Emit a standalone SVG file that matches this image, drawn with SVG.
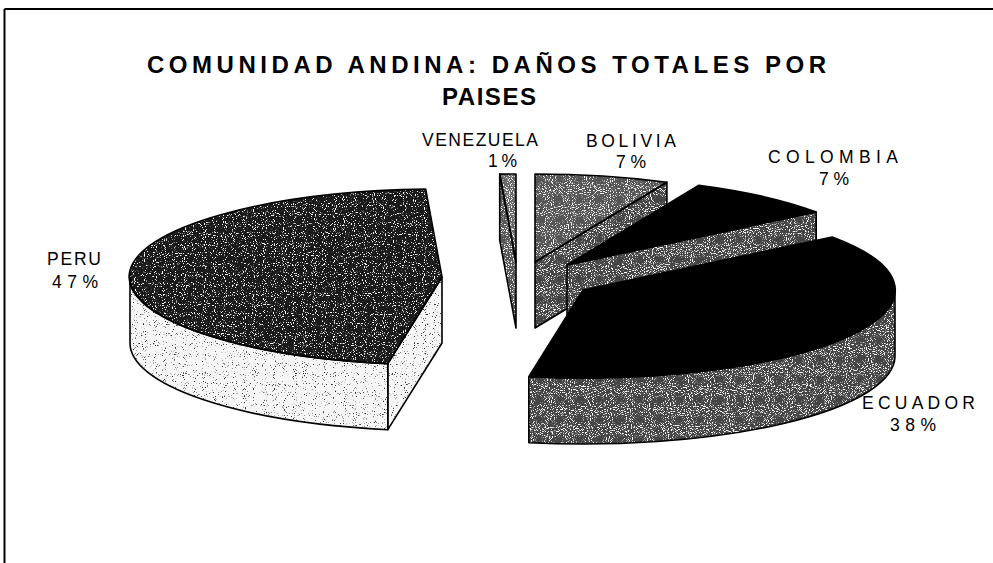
<svg xmlns="http://www.w3.org/2000/svg" width="993" height="563" viewBox="0 0 993 563">
<style>
.ol{fill:none;stroke:#000;stroke-width:1.6;stroke-linejoin:round}
.title{font-family:"Liberation Sans",Arial,sans-serif;font-weight:bold;font-size:24px;fill:#000}
.lbl{font-family:"Liberation Sans",Arial,sans-serif;font-size:17.5px;fill:#000}
</style>
<defs>
<filter id="fW1" color-interpolation-filters="sRGB">
<feTurbulence type="fractalNoise" baseFrequency="0.9" numOctaves="1" seed="3" result="n"/>
<feColorMatrix in="n" type="matrix" values="0 0 0 0 1 0 0 0 0 1 0 0 0 0 1 12 0 0 0 -7.1" result="w"/>
<feComposite in="w" in2="SourceAlpha" operator="in" result="wm"/>
<feMerge><feMergeNode in="SourceGraphic"/><feMergeNode in="wm"/></feMerge>
</filter>
<filter id="fD1" color-interpolation-filters="sRGB">
<feTurbulence type="fractalNoise" baseFrequency="0.9" numOctaves="1" seed="7" result="n"/>
<feColorMatrix in="n" type="matrix" values="0 0 0 0 0.2 0 0 0 0 0.2 0 0 0 0 0.2 10 0 0 0 -6.2" result="w"/>
<feComposite in="w" in2="SourceAlpha" operator="in" result="wm"/>
<feMerge><feMergeNode in="SourceGraphic"/><feMergeNode in="wm"/></feMerge>
</filter>
<filter id="fW2" color-interpolation-filters="sRGB">
<feTurbulence type="fractalNoise" baseFrequency="0.95" numOctaves="1" seed="11" result="n"/>
<feColorMatrix in="n" type="matrix" values="0 0 0 0 1 0 0 0 0 1 0 0 0 0 1 9 0 0 0 -4.9" result="w"/>
<feComposite in="w" in2="SourceAlpha" operator="in" result="wm"/>
<feMerge><feMergeNode in="SourceGraphic"/><feMergeNode in="wm"/></feMerge>
</filter>
</defs>
<rect x="0" y="0" width="993" height="563" fill="#fff"/>
<g id="frame">
<line x1="4.5" y1="9" x2="993" y2="9" stroke="#000" stroke-width="2"/>
<line x1="4.5" y1="9" x2="4.5" y2="563" stroke="#000" stroke-width="2"/>
</g>
<g id="title">
<text class="title" x="147" y="73" textLength="679" lengthAdjust="spacing">COMUNIDAD ANDINA: DAÑOS TOTALES POR</text>
<text class="title" x="442" y="105" textLength="94" lengthAdjust="spacing">PAISES</text>
</g>
<g id="venezuela">
<path d="M516,262 L499.7,174.1 L499.7,240.1 L516,328 Z" fill="#555" filter="url(#fW2)"/>
<path d="M516,262 L516,174 A312,88 0 0 0 499.7,174.1 Z" fill="#666" filter="url(#fW2)"/>
<path class="ol" d="M516,262 L499.7,174.1 L499.7,240.1 L516,328 Z"/>
<path class="ol" d="M516,262 L516,174 A312,88 0 0 0 499.7,174.1 Z"/>
</g>
<g id="bolivia">
<path d="M535,262 L666.9,182.2 L666.9,248.2 L535,328 Z" fill="#444" filter="url(#fW2)"/>
<path d="M535,262 L666.9,182.2 A312,88 0 0 0 535,174 Z" fill="#555" filter="url(#fW2)"/>
<path class="ol" d="M535,262 L666.9,182.2 L666.9,248.2 L535,328 Z"/>
<path class="ol" d="M535,262 L666.9,182.2 A312,88 0 0 0 535,174 Z"/>
</g>
<g id="colombia">
<path d="M567,265 L816.2,212 L816.2,278 L567,331 Z" fill="#444" filter="url(#fW2)"/>
<path class="ol" d="M567,265 L816.2,212 L816.2,278 L567,331 Z"/>
<path d="M567,265 L816.2,212 A312,88 0 0 0 698.9,185.2 Z" fill="#000" stroke="#000" stroke-width="1.6" stroke-linejoin="round"/>
</g>
<g id="peru">
<path d="M130,277 A312,88 0 0 0 387.8,363.7 L387.8,429.7 A312,88 0 0 1 130,343 Z" fill="#f6f6f6" filter="url(#fD1)"/>
<path d="M442,277 L387.8,363.7 L387.8,429.7 L442,343 Z" fill="#f6f6f6" filter="url(#fD1)"/>
<path d="M442,277 L425.7,189.1 A312,88 0 0 0 387.8,363.7 Z" fill="#1a1a1a" filter="url(#fW1)"/>
<path class="ol" d="M130,277 A312,88 0 0 0 387.8,363.7 L387.8,429.7 A312,88 0 0 1 130,343 Z"/>
<path class="ol" d="M442,277 L387.8,363.7 L387.8,429.7 L442,343 Z"/>
<path class="ol" d="M442,277 L425.7,189.1 A312,88 0 0 0 387.8,363.7 Z"/>
</g>
<g id="ecuador">
<path d="M528.8,376.7 A312,88 0 0 0 895,290 L895,356 A312,88 0 0 1 528.8,442.7 Z" fill="#444" filter="url(#fW2)"/>
<path class="ol" d="M528.8,376.7 A312,88 0 0 0 895,290 L895,356 A312,88 0 0 1 528.8,442.7 Z"/>
<path d="M583,290 L528.8,376.7 A312,88 0 0 0 832.2,237 Z" fill="#000" stroke="#000" stroke-width="1.6" stroke-linejoin="round"/>
</g>
<g id="labels">
<text class="lbl" x="422" y="146" textLength="116" lengthAdjust="spacing">VENEZUELA</text>
<text class="lbl" x="488" y="167" textLength="29" lengthAdjust="spacing">1%</text>
<text class="lbl" x="586" y="147" textLength="90" lengthAdjust="spacing">BOLIVIA</text>
<text class="lbl" x="616" y="168" textLength="30" lengthAdjust="spacing">7%</text>
<text class="lbl" x="768" y="163" textLength="130" lengthAdjust="spacing">COLOMBIA</text>
<text class="lbl" x="819" y="185" textLength="30" lengthAdjust="spacing">7%</text>
<text class="lbl" x="47" y="265" textLength="54" lengthAdjust="spacing">PERU</text>
<text class="lbl" x="52" y="288" textLength="46" lengthAdjust="spacing">47%</text>
<text class="lbl" x="862" y="409" textLength="113" lengthAdjust="spacing">ECUADOR</text>
<text class="lbl" x="890" y="431" textLength="46" lengthAdjust="spacing">38%</text>
</g>
</svg>
